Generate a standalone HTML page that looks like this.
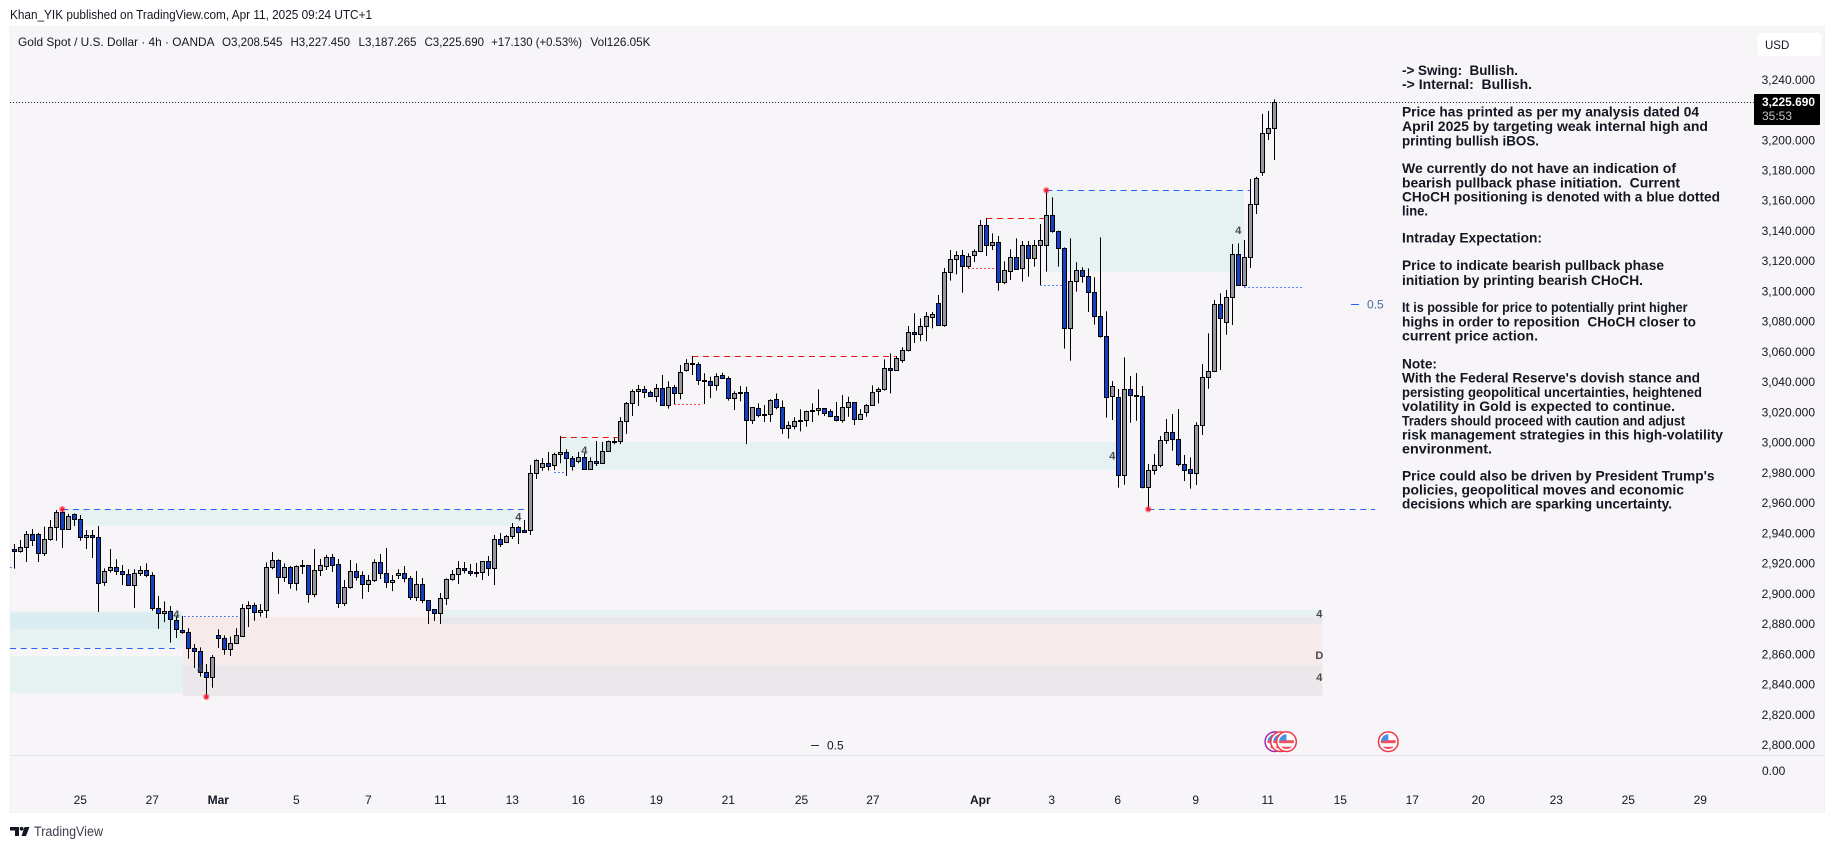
<!DOCTYPE html>
<html lang="en">
<head>
<meta charset="utf-8">
<title>Gold Spot / U.S. Dollar 4h chart</title>
<style>
html,body{margin:0;padding:0;background:#fff;width:1835px;height:849px;overflow:hidden}
svg{display:block}
text{font-family:"Liberation Sans",sans-serif;fill:#131722}
.note{font-family:"Liberation Sans",sans-serif;font-weight:bold;font-size:14px;fill:#131722}
.small{font-size:12px}
.tag{font-size:11px;fill:#4a4a4a;font-weight:bold;text-anchor:middle}
</style>
</head>
<body>
<svg id="chart" xmlns="http://www.w3.org/2000/svg" width="1835" height="849" viewBox="0 0 1835 849">
  <defs>
    <clipPath id="flagClip"><circle cx="0" cy="0" r="7.4"/></clipPath>
  </defs>
  <rect x="0" y="0" width="1835" height="849" fill="#ffffff"/>
  <text x="10" y="19" font-size="12.5" textLength="362" lengthAdjust="spacingAndGlyphs" fill="#131722">Khan_YIK published on TradingView.com, Apr 11, 2025 09:24 UTC+1</text>
  <rect x="9.5" y="26" width="1815.5" height="787" fill="#f3f2f4"/>
  <rect x="11" y="27" width="1813" height="785" fill="#f7f5f7"/>

  <g id="zones"></g>
  <g id="levels"></g>
  <g id="candles"></g>
  <g id="dots"></g>
  <g id="tags"></g>

  <line x1="11" y1="755.5" x2="1825" y2="755.5" stroke="#e0e0ea" stroke-width="1"/>

  <g class="small">
    <text x="18" y="46" font-size="12" textLength="196.5" lengthAdjust="spacingAndGlyphs">Gold Spot / U.S. Dollar · 4h · OANDA</text>
    <text x="222" y="46" font-size="12" textLength="60.5" lengthAdjust="spacingAndGlyphs">O3,208.545</text>
    <text x="290.5" y="46" font-size="12" textLength="59.5" lengthAdjust="spacingAndGlyphs">H3,227.450</text>
    <text x="358.5" y="46" font-size="12" textLength="58" lengthAdjust="spacingAndGlyphs">L3,187.265</text>
    <text x="424.5" y="46" font-size="12" textLength="59.5" lengthAdjust="spacingAndGlyphs">C3,225.690</text>
    <text x="491.3" y="46" font-size="12" textLength="90.7" lengthAdjust="spacingAndGlyphs">+17.130 (+0.53%)</text>
    <text x="590.5" y="46" font-size="12" textLength="60" lengthAdjust="spacingAndGlyphs">Vol126.05K</text>
  </g>

  <g>
    <text class="note" x="1402" y="75" textLength="116" lengthAdjust="spacingAndGlyphs" xml:space="preserve">-&gt; Swing:  Bullish.</text>
    <text class="note" x="1402" y="89" textLength="130" lengthAdjust="spacingAndGlyphs" xml:space="preserve">-&gt; Internal:  Bullish.</text>
    <text class="note" x="1402" y="116.5" textLength="297" lengthAdjust="spacingAndGlyphs">Price has printed as per my analysis dated 04</text>
    <text class="note" x="1402" y="131" textLength="306" lengthAdjust="spacingAndGlyphs">April 2025 by targeting weak internal high and</text>
    <text class="note" x="1402" y="145.5" textLength="137" lengthAdjust="spacingAndGlyphs">printing bullish iBOS.</text>
    <text class="note" x="1402" y="173" textLength="274" lengthAdjust="spacingAndGlyphs">We currently do not have an indication of</text>
    <text class="note" x="1402" y="187.5" textLength="278" lengthAdjust="spacingAndGlyphs" xml:space="preserve">bearish pullback phase initiation.  Current</text>
    <text class="note" x="1402" y="201.5" textLength="318" lengthAdjust="spacingAndGlyphs">CHoCH positioning is denoted with a blue dotted</text>
    <text class="note" x="1402" y="215.5" textLength="26" lengthAdjust="spacingAndGlyphs">line.</text>
    <text class="note" x="1402" y="242.5" textLength="140" lengthAdjust="spacingAndGlyphs">Intraday Expectation:</text>
    <text class="note" x="1402" y="270" textLength="262" lengthAdjust="spacingAndGlyphs">Price to indicate bearish pullback phase</text>
    <text class="note" x="1402" y="285" textLength="241" lengthAdjust="spacingAndGlyphs">initiation by printing bearish CHoCH.</text>
    <text class="note" x="1402" y="312" textLength="285.5" lengthAdjust="spacingAndGlyphs">It is possible for price to potentially print higher</text>
    <text class="note" x="1402" y="326.5" textLength="294" lengthAdjust="spacingAndGlyphs" xml:space="preserve">highs in order to reposition  CHoCH closer to</text>
    <text class="note" x="1402" y="340.5" textLength="136" lengthAdjust="spacingAndGlyphs">current price action.</text>
    <text class="note" x="1402" y="368.5" textLength="35" lengthAdjust="spacingAndGlyphs">Note:</text>
    <text class="note" x="1402" y="382.5" textLength="298" lengthAdjust="spacingAndGlyphs">With the Federal Reserve's dovish stance and</text>
    <text class="note" x="1402" y="397" textLength="300" lengthAdjust="spacingAndGlyphs">persisting geopolitical uncertainties, heightened</text>
    <text class="note" x="1402" y="411" textLength="273" lengthAdjust="spacingAndGlyphs">volatility in Gold is expected to continue.</text>
    <text class="note" x="1402" y="425.5" textLength="283" lengthAdjust="spacingAndGlyphs">Traders should proceed with caution and adjust</text>
    <text class="note" x="1402" y="439.5" textLength="321" lengthAdjust="spacingAndGlyphs">risk management strategies in this high-volatility</text>
    <text class="note" x="1402" y="453.5" textLength="90" lengthAdjust="spacingAndGlyphs">environment.</text>
    <text class="note" x="1402" y="480.5" textLength="312.5" lengthAdjust="spacingAndGlyphs">Price could also be driven by President Trump's</text>
    <text class="note" x="1402" y="494.5" textLength="282" lengthAdjust="spacingAndGlyphs">policies, geopolitical moves and economic</text>
    <text class="note" x="1402" y="508.5" textLength="270" lengthAdjust="spacingAndGlyphs">decisions which are sparking uncertainty.</text>
  </g>

  <g>
    <line x1="1351" y1="304.5" x2="1359" y2="304.5" stroke="#2962ff" stroke-width="1"/>
    <text x="1367" y="308.5" font-size="12" style="fill:#4a6a9e">0.5</text>
  </g>
  <g>
    <line x1="811" y1="745.5" x2="819" y2="745.5" stroke="#333" stroke-width="1"/>
    <text x="827" y="749.5" font-size="12">0.5</text>
  </g>

  <g id="events"></g>
  <g id="yAxis"></g>
  <g id="xAxis"></g>

  <text x="1762" y="775" font-size="12">0.00</text>

  <rect x="1757.5" y="33" width="64" height="23" rx="4" fill="#ffffff"/>
  <text x="1765" y="49" font-size="11.5">USD</text>

  <g>
    <rect x="1754" y="94" width="66" height="31" rx="1" fill="#000000"/>
    <text x="1762" y="106" font-size="12" font-weight="bold" textLength="53" lengthAdjust="spacingAndGlyphs" style="fill:#ffffff">3,225.690</text>
    <text x="1762" y="120" font-size="12" style="fill:#c4c4c4">35:53</text>
  </g>

  <g>
    <path d="M10 827H19V836H15V830.5H10ZM24.5 827H29.5L26 836H21.5Z" fill="#131722"/>
    <circle cx="21.6" cy="828.8" r="1.9" fill="#131722"/>
    <text x="34" y="836" font-size="13.5" textLength="69" lengthAdjust="spacingAndGlyphs" style="fill:#3a3e4a">TradingView</text>
  </g>
</svg>

<script>
const opens = [
2929.9,2929.0,2931.2,2939.8,2939.8,2927.7,2936.5,2944.4,2954.4,2943.1,
2953.0,2949.7,2937.8,2939.2,2937.8,2908.1,2916.0,2918.0,2915.3,2913.3,
2906.1,2914.0,2916.0,2912.7,2890.9,2887.6,2888.9,2882.9,2876.3,2875.0,
2864.4,2862.4,2848.6,2845.3,2873.0,2871.0,2863.8,2867.7,2872.4,2890.9,
2892.9,2888.2,2889.6,2918.0,2922.6,2911.4,2918.0,2907.4,2919.3,2919.3,
2900.1,2916.0,2918.7,2924.6,2920.0,2894.2,2904.8,2915.3,2912.7,2906.7,
2909.4,2921.3,2914.0,2908.1,2912.7,2914.0,2910.7,2898.2,2906.7,2896.2,
2890.2,2887.6,2897.5,2910.1,2913.3,2917.3,2915.3,2914.7,2914.7,2922.0,
2917.3,2936.5,2934.5,2938.5,2944.4,2942.5,2942.5,2980.2,2984.1,2986.8,
2985.4,2992.7,2994.0,2990.1,2988.1,2990.7,2982.8,2988.1,2987.2,2994.7,
3001.3,3001.3,3014.5,3026.4,3034.4,3035.7,3033.7,3031.1,3036.3,3025.1,
3037.0,3033.0,3048.2,3052.9,3052.2,3041.6,3041.0,3038.3,3044.9,3043.0,
3029.7,3033.7,3033.7,3015.2,3023.1,3019.2,3019.2,3029.1,3023.8,3009.9,
3011.2,3015.2,3015.2,3021.8,3021.8,3023.1,3021.1,3017.8,3015.2,3023.8,
3027.1,3015.9,3020.5,3025.1,3034.4,3035.7,3049.6,3048.2,3055.1,3061.5,
3073.6,3072.5,3077.4,3083.7,3092.6,3078.4,3113.1,3121.7,3124.3,3117.0,
3124.3,3127.0,3144.1,3130.9,3132.9,3106.4,3113.7,3123.0,3115.7,3130.9,
3122.3,3130.9,3130.9,3150.7,3140.2,3128.9,3076.0,3107.1,3114.4,3110.4,
3099.8,3084.0,3070.7,3031.1,3030.4,2978.8,3035.7,3031.7,3031.1,2970.9,
2982.1,2985.4,3002.0,3007.3,3002.6,2986.1,2982.8,2980.2,3011.9,3043.6,
3047.6,3091.9,3080.0,3096.5,3124.9,3104.5,3123.0,3158.0,3179.2,3205.0,3208.545];
const highs = [
2933.4,2936.1,2942.0,2943.3,2940.9,2944.9,2949.3,2955.9,2957.0,2953.3,
2953.7,2952.6,2942.7,2942.7,2945.3,2917.3,2930.1,2923.3,2919.5,2916.7,
2916.7,2918.9,2920.6,2914.7,2899.0,2895.5,2892.4,2885.4,2885.8,2877.7,
2867.3,2865.1,2854.1,2860.0,2877.0,2873.0,2872.2,2877.7,2893.7,2895.5,
2894.6,2893.7,2921.3,2928.1,2923.3,2920.6,2918.9,2919.3,2922.8,2919.3,
2930.1,2923.5,2926.2,2926.8,2923.5,2909.6,2922.8,2920.6,2915.3,2912.9,
2923.3,2926.8,2930.8,2912.9,2916.7,2918.9,2912.3,2915.6,2910.9,2896.2,
2890.2,2901.0,2910.7,2916.2,2922.2,2921.5,2920.2,2920.9,2922.0,2925.5,
2939.4,2940.7,2939.4,2947.3,2945.3,2949.3,2985.7,2989.4,2990.1,2994.3,
2993.8,3004.8,2996.0,2991.6,2994.3,2993.4,2990.7,3001.5,3000.9,3001.8,
3003.5,3017.2,3027.3,3035.7,3038.6,3037.9,3034.8,3039.2,3045.2,3041.0,
3038.6,3051.8,3055.7,3057.7,3053.5,3046.3,3044.1,3046.3,3046.7,3044.3,
3034.4,3037.9,3037.4,3023.8,3026.4,3025.3,3029.1,3033.0,3028.4,3014.5,
3017.2,3022.5,3021.6,3026.4,3035.7,3023.3,3022.5,3027.3,3031.9,3030.8,
3027.1,3022.5,3026.0,3038.3,3037.0,3055.5,3059.5,3057.7,3063.5,3077.6,
3086.0,3082.6,3086.8,3086.8,3098.1,3115.9,3127.8,3127.0,3127.8,3125.6,
3128.3,3147.7,3148.8,3138.8,3137.1,3120.3,3128.3,3135.5,3133.8,3133.8,
3134.4,3145.0,3167.5,3162.6,3140.6,3129.6,3135.5,3119.7,3116.4,3115.7,
3109.8,3136.2,3087.3,3041.2,3035.9,3056.8,3044.5,3046.5,3037.9,2986.3,
2992.9,3004.8,3016.1,3019.4,3022.7,2992.3,2990.7,3013.9,3052.4,3072.7,
3094.8,3099.2,3101.4,3131.8,3132.2,3134.4,3174.8,3176.3,3217.8,3219.7,3227.45];
const lows = [
2917.1,2927.7,2921.5,2932.1,2921.5,2925.5,2935.6,2935.6,2930.8,2942.7,
2945.3,2935.6,2930.1,2924.2,2888.5,2905.7,2914.5,2912.9,2906.3,2906.1,
2891.1,2912.3,2911.4,2889.3,2877.4,2881.8,2868.2,2871.3,2874.1,2857.6,
2851.4,2845.7,2832.5,2838.4,2864.7,2860.2,2859.4,2867.7,2872.2,2878.5,
2882.7,2885.4,2884.5,2916.7,2900.4,2908.3,2903.9,2902.6,2913.6,2894.6,
2898.2,2912.3,2916.2,2914.9,2891.1,2892.4,2903.9,2909.2,2897.1,2901.7,
2908.3,2910.3,2904.3,2902.3,2910.3,2908.1,2896.4,2895.7,2894.2,2880.5,
2882.5,2880.5,2893.1,2909.2,2907.0,2914.0,2912.3,2911.4,2909.6,2912.3,
2906.3,2931.4,2934.3,2936.7,2933.4,2941.6,2939.4,2976.4,2981.9,2981.9,
2982.3,2986.8,2978.4,2981.9,2986.8,2982.8,2982.8,2985.0,2986.8,2994.3,
2999.5,2999.5,3006.2,3018.1,3024.7,3029.9,3030.8,3027.3,3025.1,3022.9,
3026.0,3029.1,3047.4,3045.2,3038.6,3026.0,3029.9,3034.8,3042.7,3028.2,
3022.0,3027.7,2999.5,3012.8,3017.2,3014.1,3014.1,3022.5,3006.2,3003.1,
3009.2,3007.9,3011.0,3014.1,3018.5,3018.1,3017.2,3014.5,3013.7,3017.6,
3012.1,3015.9,3017.6,3024.7,3026.4,3034.8,3033.0,3048.0,3053.3,3060.8,
3066.3,3067.6,3067.6,3076.0,3077.8,3077.1,3107.6,3111.7,3099.6,3115.7,
3119.9,3126.9,3123.9,3127.8,3100.9,3105.3,3108.0,3115.5,3106.9,3110.2,
3116.8,3104.7,3113.5,3139.3,3116.8,3062.6,3054.6,3100.3,3106.2,3086.8,
3078.5,3069.9,3017.0,3015.4,2970.7,2972.6,3013.6,3014.9,2970.2,2957.0,
2979.3,2984.1,2999.6,2995.2,2984.8,2975.1,2970.0,2972.4,3005.5,3036.1,
3047.1,3048.5,3071.8,3078.2,3104.3,3103.6,3115.9,3151.6,3176.8,3200.6,3187.265];
const closes = [
2929.0,2931.2,2939.8,2936.3,2927.7,2936.5,2944.4,2954.4,2943.1,2951.7,
2949.7,2937.8,2939.2,2937.8,2907.4,2915.3,2918.0,2915.3,2913.3,2906.1,
2914.0,2916.0,2912.7,2890.9,2887.6,2888.9,2883.6,2877.0,2875.0,2864.4,
2862.4,2848.6,2845.3,2858.5,2871.0,2863.8,2867.7,2873.0,2890.9,2892.9,
2888.2,2889.6,2918.0,2922.6,2911.4,2918.0,2907.4,2918.7,2919.3,2900.1,
2916.0,2919.3,2924.6,2919.8,2894.2,2904.8,2915.3,2911.4,2906.7,2909.4,
2921.3,2914.0,2908.1,2909.4,2914.0,2910.7,2898.2,2906.7,2896.2,2889.6,
2887.6,2897.5,2910.1,2913.3,2917.3,2916.0,2914.0,2914.0,2922.0,2917.3,
2936.5,2933.6,2938.5,2944.4,2941.6,2941.6,2980.2,2988.7,2986.8,2985.2,
2992.7,2994.0,2990.1,2984.8,2990.7,2982.8,2988.1,2987.2,2994.7,3001.3,
3001.3,3014.5,3026.4,3034.4,3035.7,3033.7,3031.1,3036.3,3025.1,3037.0,
3033.0,3046.9,3052.9,3052.2,3041.6,3041.0,3038.3,3044.3,3043.0,3029.7,
3033.0,3033.0,3015.2,3023.8,3018.5,3018.5,3028.4,3023.8,3009.9,3011.9,
3014.5,3014.5,3021.1,3021.8,3023.1,3019.8,3017.8,3015.2,3023.8,3027.1,
3015.9,3019.2,3025.1,3033.7,3035.7,3049.6,3048.2,3056.2,3061.5,3073.4,
3072.3,3077.4,3084.0,3085.3,3078.4,3113.1,3121.7,3124.3,3117.0,3123.6,
3127.0,3144.1,3130.9,3132.9,3106.4,3114.4,3123.0,3115.5,3130.9,3122.3,
3130.9,3134.2,3150.7,3140.2,3128.9,3076.0,3107.1,3114.4,3110.4,3099.8,
3084.0,3070.7,3030.8,3037.7,2978.8,3035.7,3031.7,3031.6,2970.9,2982.1,
2985.4,3002.0,3007.3,3002.6,2986.1,2982.1,2980.2,3011.9,3043.6,3047.6,
3091.9,3082.6,3096.5,3124.9,3104.5,3123.0,3158.0,3175.2,3205.0,3208.545,3225.69];

const priceTicks = [3240,3220,3200,3180,3160,3140,3120,3100,3080,3060,3040,3020,3000,2980,2960,2940,2920,2900,2880,2860,2840,2820,2800];
const timeLabels = ['25','27','Mar','5','7','11','13','16','19','21','25','27','Apr','3','6','9','11','15','17','20','23','25','29'];
const timeBars = [11,23,34,47,59,71,83,94,107,119,131.2,143.1,161,172.9,183.9,196.9,208.9,221,233,244,257,269,281];
const lastPrice = 3225.69;
const swingBars = [8,32,172,189];
const swingPrices = [2956.4,2832.3,3167.3,2956.4];
const eventBars = [210.1,211.05,212.03,229];

const NS = 'http://www.w3.org/2000/svg';
function xScale(bar){ return 14.3 + 6 * bar; }
function yScale(price){ return 102 + (lastPrice - price) * 1.5123; }
function make(tag, parent){
  const el = document.createElementNS(NS, tag);
  document.getElementById(parent).appendChild(el);
  return el;
}

function addZone(name, b0, b1, pTop, pBot, fill){
  const el = make('rect', 'zones');
  
  
  el.setAttribute('x', xScale(b0));
  el.setAttribute('y', yScale(pTop));
  el.setAttribute('width', xScale(b1) - xScale(b0));
  el.setAttribute('height', yScale(pBot) - yScale(pTop));
  el.setAttribute('fill', fill);
}
const TEAL = '#e6f1f2', TEAL2 = '#dbedf0', PINK = '#f6eaea', MAUVE = '#ece7eb', OVER = '#e8e8ec';
addZone('supply-zone-feb', 8, 84.3, 2956, 2945.5, TEAL);
addZone('demand-zone-left-upper', -0.7, 28.1, 2889.1, 2864.7, TEAL);
addZone('demand-zone-left-core', -0.7, 28.1, 2888, 2877.2, TEAL2);
addZone('demand-zone-left-lower', -0.7, 28.1, 2859.4, 2835.1, TEAL);
addZone('daily-demand-zone', 28.1, 218, 2885.2, 2832.9, PINK);
addZone('daily-demand-zone-lower', 28.1, 218, 2853.4, 2832.9, MAUVE);
addZone('h4-strip-upper', 71, 218, 2889.8, 2885.2, TEAL);
addZone('h4-strip-lower', 71, 218, 2885.2, 2880.5, OVER);
addZone('mid-demand-zone', 91, 183.6, 3000.9, 2982.4, TEAL);
addZone('mid-demand-zone-cap', 91, 96, 3004.4, 3000.9, TEAL);
addZone('upper-supply-zone', 172, 205, 3167, 3113.5, TEAL);

function addLevel(name, b0, b1, price, color, dash, width){
  const el = make('line', 'levels');
  
  
  const y = Math.round(yScale(price)) + 0.5;
  el.setAttribute('x1', xScale(b0));
  el.setAttribute('x2', xScale(b1));
  el.setAttribute('y1', y);
  el.setAttribute('y2', y);
  el.setAttribute('stroke', color);
  el.setAttribute('stroke-width', width);
  el.setAttribute('stroke-dasharray', dash);
}
const BLUE = '#2962ff', RED = '#f00f0f', DASH = '6 4.6', DOT = '1.5 2.5';
addLevel('last-price-line', -0.7, 290, lastPrice, '#131722', '1 2', 1);
addLevel('blue-dashed-level-feb', 8, 85.6, 2956.4, BLUE, DASH, 1);
addLevel('blue-dashed-level-left', -0.7, 27.6, 2864.4, BLUE, DASH, 1);
addLevel('blue-dotted-level-left', -0.7, 0, 2918.4, BLUE, DOT, 1);
addLevel('blue-dotted-level-mar', 28.3, 37.6, 2885.6, BLUE, DOT, 1);
addLevel('red-dashed-level-mar', 91, 100.6, 3004.4, RED, DASH, 1);
addLevel('red-dashed-level-mar-high', 113, 146.9, 3057.5, RED, DASH, 1);
addLevel('red-dotted-level-mar', 110, 114.7, 3025.8, RED, DOT, 1);
addLevel('blue-dotted-level-mar-low', 90, 91.7, 2980.8, BLUE, DOT, 1);
addLevel('red-dashed-level-apr', 162, 171.6, 3148.8, RED, DASH, 1);
addLevel('red-dotted-level-apr', 159, 163.7, 3115.7, RED, DOT, 1);
addLevel('blue-dotted-level-apr', 171, 174.8, 3104.5, BLUE, DOT, 1);
addLevel('blue-dashed-level-apr-high', 172, 206, 3167.3, BLUE, DASH, 1);
addLevel('choch-dotted-level', 205, 214.6, 3103.2, BLUE, DOT, 1);
addLevel('blue-dashed-level-apr-low', 189, 226.8, 2956.4, BLUE, DASH, 1);

for (let i = 0; i < opens.length; i++) {
  const c = Math.floor(xScale(i)) + 0.5;
  const up = closes[i] > opens[i];
  const wick = make('line', 'candles');
  
  
  wick.setAttribute('x1', c);
  wick.setAttribute('x2', c);
  wick.setAttribute('y1', yScale(highs[i]));
  wick.setAttribute('y2', yScale(lows[i]));
  wick.setAttribute('stroke', '#000');
  wick.setAttribute('stroke-width', 1);
  const top = Math.round(yScale(Math.max(opens[i], closes[i]))) + 0.5;
  let bot = Math.round(yScale(Math.min(opens[i], closes[i]))) + 0.5;
  if (bot - top < 1) bot = top + 1;
  const body = make('rect', 'candles');
  
  
  body.setAttribute('x', c - 2);
  body.setAttribute('y', top);
  body.setAttribute('width', 4);
  body.setAttribute('height', bot - top);
  body.setAttribute('fill', up ? '#9598a1' : '#1340c4');
  body.setAttribute('stroke', '#000');
  body.setAttribute('stroke-width', 1);
}

swingBars.forEach(function (bar, i) {
  const halo = make('circle', 'dots');
  
  
  halo.setAttribute('cx', xScale(bar));
  halo.setAttribute('cy', yScale(swingPrices[i]));
  halo.setAttribute('r', 3.2);
  halo.setAttribute('fill', '#f23645');
  halo.setAttribute('opacity', 0.55);
  const dot = make('circle', 'dots');
  
  
  dot.setAttribute('cx', xScale(bar));
  dot.setAttribute('cy', yScale(swingPrices[i]));
  dot.setAttribute('r', 1.9);
  dot.setAttribute('fill', '#f21f35');
});

const tagLabels = ['4','4','4','4','4','4','4','D','4'];
const tagBars = [31,27,84,95,204,183,217.5,217.5,217.5];
const tagPrices = [2851.5,2887.2,2951.5,2995.5,3141,2992,2887.3,2860,2845.4];
tagLabels.forEach(function (label, i) {
  const t = make('text', 'tags');
  
  
  t.setAttribute('class', 'tag');
  t.setAttribute('x', xScale(tagBars[i]));
  t.setAttribute('y', yScale(tagPrices[i]) + 4);
  t.textContent = label;
});

eventBars.forEach(function (bar, i) {
  const g = make('g', 'events');
  
  
  g.setAttribute('transform', 'translate(' + xScale(bar) + ',741.7)');
  const ring = document.createElementNS(NS, 'circle');
  
  
  ring.setAttribute('r', 9.8);
  ring.setAttribute('fill', '#ffffff');
  ring.setAttribute('stroke', i === 0 ? '#9c27b0' : '#f23645');
  ring.setAttribute('stroke-width', 1.5);
  g.appendChild(ring);
  const flag = document.createElementNS(NS, 'g');
  
  
  flag.setAttribute('clip-path', 'url(#flagClip)');
  const bands = [[-9,-1.5,18,3,'#f0505f'],[-9,5,18,4,'#f0505f'],[-9,-9,9,8,'#4a90e2']];
  bands.forEach(function (b) {
    const r = document.createElementNS(NS, 'rect');
    
    
    r.setAttribute('x', b[0]);
    r.setAttribute('y', b[1]);
    r.setAttribute('width', b[2]);
    r.setAttribute('height', b[3]);
    r.setAttribute('fill', b[4]);
    flag.appendChild(r);
  });
  g.appendChild(flag);
});

priceTicks.forEach(function (p) {
  if (Math.abs(p - 3220) < 1) return;
  const t = make('text', 'yAxis');
  
  
  t.setAttribute('x', 1815);
  t.setAttribute('y', yScale(p) + 3.4);
  t.setAttribute('text-anchor', 'end');
  t.setAttribute('font-size', '12');
  t.textContent = p.toLocaleString('en-US') + '.000';
});

timeLabels.forEach(function (label, i) {
  const t = make('text', 'xAxis');
  
  
  t.setAttribute('x', xScale(timeBars[i]));
  t.setAttribute('y', 804);
  t.setAttribute('text-anchor', 'middle');
  t.setAttribute('font-size', '12');
  if (label === 'Mar' || label === 'Apr') t.setAttribute('font-weight', 'bold');
  t.textContent = label;
});
</script>
</body>
</html>
